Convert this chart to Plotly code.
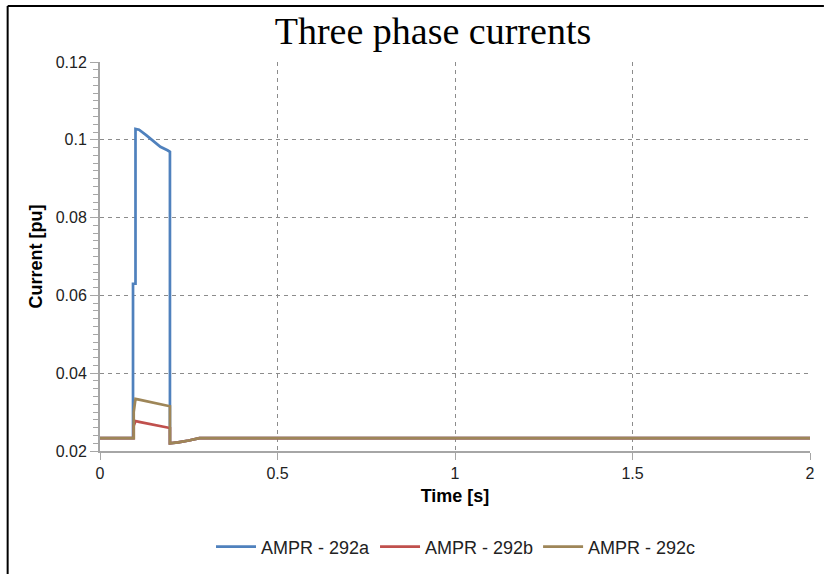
import plotly.graph_objects as go

# Data
t_a = [0.0, 0.093, 0.093, 0.100, 0.100, 0.110, 0.130, 0.150, 0.170, 0.190, 0.197, 0.197, 0.220, 0.250, 0.280, 2.0]
i_a = [0.0233, 0.0233, 0.0630, 0.0630, 0.1028, 0.1026, 0.1012, 0.0997, 0.0982, 0.0973, 0.0969, 0.0220, 0.0222, 0.0227, 0.0233, 0.0233]

t_b = [0.0, 0.095, 0.095, 0.100, 0.110, 0.130, 0.150, 0.170, 0.190, 0.197, 0.197, 0.220, 0.250, 0.280, 2.0]
i_b = [0.0233, 0.0233, 0.0265, 0.0277, 0.0275, 0.0271, 0.0267, 0.0263, 0.0260, 0.0259, 0.0220, 0.0222, 0.0227, 0.0233, 0.0233]

t_c = [0.0, 0.095, 0.095, 0.100, 0.110, 0.130, 0.150, 0.170, 0.190, 0.197, 0.197, 0.220, 0.250, 0.280, 2.0]
i_c = [0.0233, 0.0233, 0.0300, 0.0334, 0.0332, 0.0328, 0.0323, 0.0319, 0.0316, 0.0315, 0.0220, 0.0222, 0.0227, 0.0233, 0.0233]

names = ["AMPR - 292a", "AMPR - 292b", "AMPR - 292c"]
colors = ["#4f81bd", "#c0504d", "#9e8658"]

fig = go.Figure()
for t, v, n, c in zip([t_a, t_b, t_c], [i_a, i_b, i_c], names, colors):
    fig.add_trace(go.Scatter(x=t, y=v, mode="lines", name=n,
                             line=dict(color=c, width=2.7)))

axis_col = "#a6a6a6"
grid_col = "#8c8c8c"
sans = "Liberation Sans, Arial, sans-serif"
tickfont = dict(family=sans, size=16, color="#222")

# plot area in pixels: left 100, right 815, top 62, bottom 451
L, R, T, B, W, H = 100, 815, 62, 451, 824, 574
def px(x):
    return (x - L) / (R - L)
def py(y):
    return (B - y) / (B - T)

fig.update_layout(
    width=W, height=H,
    margin=dict(l=L, r=W - R, t=T, b=H - B),
    paper_bgcolor="white", plot_bgcolor="white",
    title=dict(text="Three phase currents", x=433 / W, xref="container", xanchor="center",
               y=1 - 31 / H, yref="container", yanchor="middle",
               font=dict(family="Liberation Serif, DejaVu Serif, serif", size=38, color="black")),
    xaxis=dict(range=[0, 2], dtick=0.5, tick0=0, showline=True, linecolor=axis_col, linewidth=2,
               ticks="outside", ticklen=7, tickcolor=axis_col, tickwidth=1,
               showgrid=True, gridcolor=grid_col, griddash="4px,4px", gridwidth=1.3,
               zeroline=False, tickfont=tickfont, ticklabelstandoff=0,
               title=dict(text="<b>Time [s]</b>", standoff=8,
                          font=dict(family=sans, size=18, color="black"))),
    yaxis=dict(range=[0.02, 0.12], dtick=0.02, tick0=0.02, showline=True, linecolor=axis_col, linewidth=2,
               ticks="outside", ticklen=8, tickcolor=axis_col, tickwidth=1,
               minor=dict(dtick=0.002, ticks="outside", ticklen=5, tickcolor=axis_col, showgrid=False),
               showgrid=True, gridcolor=grid_col, griddash="4px,4px", gridwidth=1.3,
               zeroline=False, tickfont=tickfont, tickformat="~g",
               title=dict(text="<b>Current [pu]</b>", standoff=8,
                          font=dict(family=sans, size=18, color="black"))),
    legend=dict(orientation="h", x=456 / W, xref="container", xanchor="center",
                y=1 - 547 / H, yref="container", yanchor="middle",
                font=dict(family=sans, size=18, color="#222"),
                itemwidth=40, tracegroupgap=0),
    shapes=[
        dict(type="line", xref="paper", yref="paper", x0=px(7), x1=px(7), y0=py(6), y1=py(H + 5),
             line=dict(color="black", width=2)),
        dict(type="line", xref="paper", yref="paper", x0=px(7), x1=px(W + 5), y0=py(6), y1=py(6),
             line=dict(color="black", width=2)),
    ],
)

fig.write_html("out.html")
